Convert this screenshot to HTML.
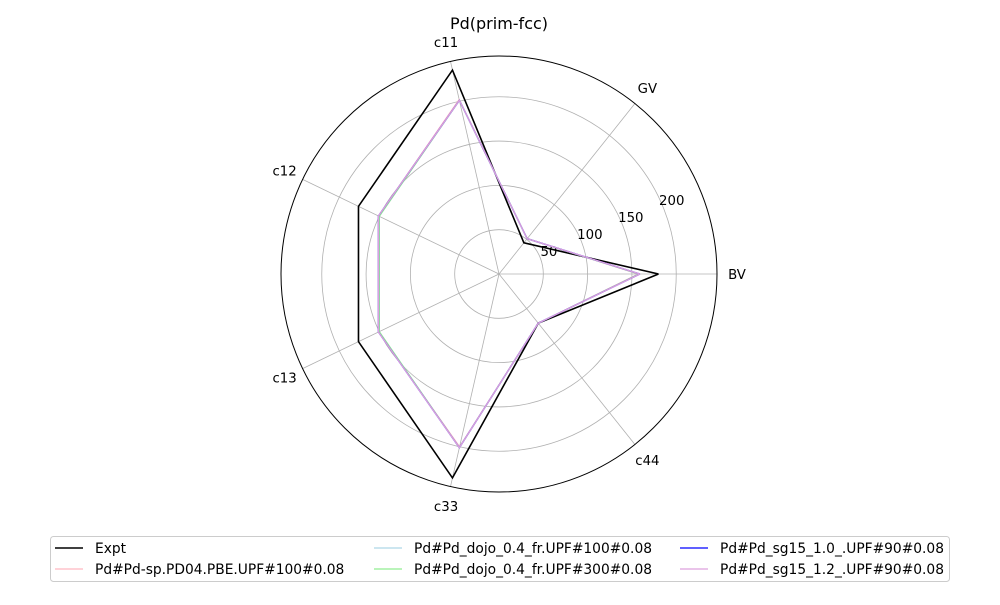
<!DOCTYPE html>
<html><head><meta charset="utf-8"><style>
body{margin:0;background:#fff;font-family:"Liberation Sans","DejaVu Sans",sans-serif}
svg text{font-family:"DejaVu Sans","Liberation Sans",sans-serif;font-size:13.3px}
svg text.title{font-size:16px}
svg text.leg{font-size:13.8px}
</style></head><body>
<svg id="chart" width="1000" height="600"></svg>
<script>
const categories=["BV","GV","c11","c12","c13","c33","c44"];
const ticks=[50,100,150,200];
const seriesNames=["Expt","Pd#Pd-sp.PD04.PBE.UPF#100#0.08","Pd#Pd_dojo_0.4_fr.UPF#100#0.08","Pd#Pd_dojo_0.4_fr.UPF#300#0.08","Pd#Pd_sg15_1.0_.UPF#90#0.08","Pd#Pd_sg15_1.2_.UPF#90#0.08"];
const expt=[180,45,236,176,176,236,71];
const pdSp=[157,51,202,151,151,200,71];
const dojo100=[158,51,201,150,150,201,71];
const dojo300=[158,51,201,150,150,201,71];
const sg1510=[159,51,201,151,151,201,71];
const sg1512=[159,51,201,151,151,201,71];
const seriesValues=[expt,pdSp,dojo100,dojo300,sg1510,sg1512];
const colors=["#000","#ffb6c1","#add8e6","#90ee90","#0000ff","#dda0dd"];
const widths=[1.6,1.3,1.3,1.3,1.3,1.3];
const NS="http://www.w3.org/2000/svg";
const svg=document.getElementById('chart');
const cx=499,cy=274,R=218,rmax=246;
function rs(v){return v/rmax*R;}
function ang(i){return i*2*Math.PI/categories.length;}
function pt(i,v){const a=ang(i),r=rs(v);return [cx+r*Math.cos(a),cy-r*Math.sin(a)];}
function el(t,a,p){const e=document.createElementNS(NS,t);for(const k in a)e.setAttribute(k,a[k]);(p||svg).appendChild(e);return e;}
const title=el('text',{x:499,y:29,'text-anchor':'middle','class':'title'});title.textContent="Pd(prim-fcc)";


ticks.forEach(t=>{const c=el('circle',{cx,cy,r:rs(t),fill:'none',stroke:'#b0b0b0','stroke-width':0.8});


const a=22.5*Math.PI/180;const tx=el('text',{x:cx+rs(t)*Math.cos(a)+9,y:cy-rs(t)*Math.sin(a)-1,'text-anchor':'middle'});tx.textContent=t;

});
categories.forEach((c,i)=>{const p=pt(i,rmax);const l=el('line',{x1:cx,y1:cy,x2:p[0],y2:p[1],stroke:'#b0b0b0','stroke-width':0.8});


const a=ang(i),lr=R+20;const tx=el('text',{x:cx+lr*Math.cos(a),y:cy-lr*Math.sin(a)+5,'text-anchor':'middle'});tx.textContent=c;

});
const oc=el('circle',{cx,cy,r:R,fill:'none',stroke:'#000','stroke-width':1});


seriesValues.forEach((vals,s)=>{const pts=vals.map((v,i)=>pt(i,v));pts.push(pts[0]);
const pl=el('polyline',{points:pts.map(p=>p.join(',')).join(' '),fill:'none',stroke:colors[s],'stroke-width':widths[s]});

});
const lg=el('g',{});


el('rect',{x:50.5,y:536.5,width:899,height:45,rx:3,fill:'#fff',stroke:'#ccc'},lg);
const colX=[55,374,680];
seriesNames.forEach((n,s)=>{const col=Math.floor(s/2),row=s%2;const x=colX[col],y=548+row*21;
const g=el('g',{},lg);


el('line',{x1:x,y1:y,x2:x+28,y2:y,stroke:colors[s],'stroke-width':widths[s]},g);
const t=el('text',{x:x+40,y:y+5,'class':'leg'},g);t.textContent=n;});
</script>
</body></html>
